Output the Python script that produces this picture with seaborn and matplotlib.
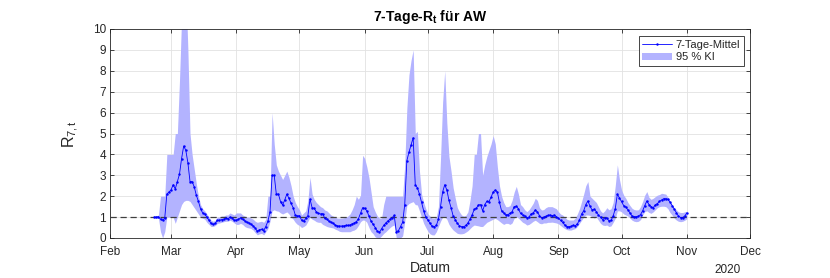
import numpy as np
import pandas as pd
import matplotlib
matplotlib.use("Agg")
import matplotlib.pyplot as plt
from matplotlib.lines import Line2D
from matplotlib.patches import Patch
import seaborn as sns

# ---------------- data ----------------
start_date = "2020-02-22"

r7_mean = [
    1.0, 1.0, 1.02, 0.9, 0.85, 0.95, 2.1, 2.2, 2.3, 2.55, 2.35, 2.7, 3.05, 3.8, 4.4, 4.2, 3.6, 2.7, 2.7, 2.45,
    2.05, 1.75, 1.4, 1.2, 1.15, 1.0, 0.85, 0.7, 0.65, 0.7, 0.85, 0.85, 0.88, 0.9, 0.95, 0.92, 1.0, 0.95, 0.85,
    0.86, 0.9, 0.97, 0.9, 0.82, 0.75, 0.72, 0.65, 0.58, 0.47, 0.32, 0.4, 0.42, 0.35, 0.55, 0.8, 1.25, 3.0, 3.0, 2.1,
    2.1, 1.74, 1.58, 1.82, 2.1, 1.9, 1.66, 1.45, 1.1, 1.05, 1.07, 0.85, 0.8, 0.94, 1.07, 1.86, 1.45, 1.42, 1.25, 1.18,
    1.15, 1.17, 0.94,
    0.9, 0.8, 0.75, 0.7, 0.62, 0.58, 0.57, 0.57, 0.58, 0.6, 0.6, 0.62, 0.68, 0.72, 0.78, 0.92, 1.18, 1.45, 1.42, 1.3,
    1.05, 0.8, 0.65, 0.5, 0.32, 0.27, 0.45, 0.6, 0.72, 0.82, 0.9, 0.97, 1.08, 0.3, 0.35, 0.55, 0.75, 1.6, 3.7, 4.1,
    4.45, 4.8, 2.55, 2.4,
    2.1, 1.7, 1.3, 1.0, 0.86, 0.7, 0.56, 0.54, 0.6, 0.9, 1.5, 2.2, 2.55, 2.3, 1.8, 1.45, 1.05, 0.88, 0.7, 0.58,
    0.54, 0.54, 0.6, 0.72, 0.9, 1.1, 1.37, 1.42, 1.58, 1.6, 1.3, 1.6, 1.75, 1.74, 1.95, 2.2, 2.3, 2.2, 1.7, 1.3, 1.2,
    1.1, 1.12, 1.18, 1.26, 1.5, 1.52, 1.4, 1.18, 1.1, 1.05, 0.97, 1.0, 1.15, 1.2, 1.34, 1.25, 1.07, 0.97, 1.0, 1.03,
    1.08, 1.1, 1.07, 1.1, 1.02, 0.95, 0.85, 0.75, 0.62, 0.55, 0.54, 0.56, 0.6, 0.58, 0.68, 0.85, 1.15, 1.3, 1.6, 1.77,
    1.52, 1.34, 1.38,
    1.26, 1.1, 1.0, 0.88, 0.97, 0.95, 0.82, 0.85, 1.05, 1.4, 2.1, 1.92, 1.75, 1.55, 1.48, 1.35, 1.2, 1.05, 1.02, 1.02,
    1.05, 1.12, 1.3, 1.55, 1.77, 1.6, 1.5, 1.45, 1.58, 1.65, 1.75, 1.82, 1.88, 1.88, 1.85, 1.72, 1.55, 1.38, 1.2, 1.05,
    0.98, 0.98, 1.05, 1.2,
]

ci_upper = [
    1.05, 1.05, 1.1, 2.0, 2.0, 2.0, 4.0, 4.0, 4.0, 4.0, 5.0, 5.0, 7.5, 10.5, 13.0, 12.0, 9.0, 5.0, 4.0, 3.3,
    2.6, 2.0, 1.6, 1.4, 1.3, 1.15, 1.0, 0.85, 0.8, 0.85, 1.0, 1.0, 1.05, 1.05, 1.1, 1.1, 1.2, 1.15, 1.1,
    1.2, 1.2, 1.2, 1.1, 1.05, 1.0, 1.0, 0.95, 0.9, 0.8, 0.75, 0.78, 0.8, 0.75, 0.9, 2.0, 2.0, 6.0, 4.5, 3.5,
    3.2, 3.0, 2.8, 3.0, 3.2, 2.9, 2.5, 2.0, 1.7, 1.5, 1.35, 1.1, 1.2, 1.3, 1.8, 2.9, 2.1, 1.85, 1.7, 1.6,
    1.5, 1.45, 1.34,
    1.3, 1.2, 1.1, 1.05, 1.0, 0.95, 0.95, 0.95, 0.97, 1.0, 1.05, 1.15, 1.35, 1.6, 2.0, 1.85, 2.05, 3.96, 3.8, 3.4,
    2.9, 2.2, 1.5, 1.25, 1.05, 0.95, 0.95, 1.6, 2.0, 2.0, 2.0, 2.0, 2.0, 2.0, 2.0, 2.0, 2.0, 3.5, 6.2, 7.8,
    8.5, 9.0, 5.0, 5.1,
    3.2, 2.1, 1.7, 1.4, 1.15, 1.05, 0.95, 0.95, 1.0, 1.5, 3.8, 6.5, 8.0, 5.5, 3.9, 3.2, 2.4, 1.9, 1.45, 1.25,
    1.1, 1.05, 1.08, 1.25, 1.8, 2.5, 4.0, 4.0, 5.0, 5.0, 3.0, 3.5, 3.9, 4.2, 4.5, 4.9, 4.5, 3.4, 2.5, 2.0, 1.7,
    1.5, 1.5, 1.55, 1.8, 2.2, 2.47, 2.1, 1.6, 1.5, 1.35, 1.26, 1.35, 1.5, 1.66, 1.9, 1.8, 1.45, 1.34, 1.36, 1.45,
    1.5, 1.5, 1.5, 1.45, 1.4, 1.26, 1.15, 1.1, 1.0, 0.9, 0.86, 0.86, 0.86, 0.95, 1.15, 1.4, 1.74, 2.1, 2.5, 2.7,
    2.0, 1.9, 1.8,
    1.7, 1.5, 1.3, 1.2, 1.3, 1.45, 1.35, 1.4, 1.7, 2.5, 3.5, 2.8, 2.3, 2.05, 1.9, 1.7, 1.55, 1.42, 1.36, 1.34,
    1.35, 1.5, 1.75, 2.05, 2.22, 1.95, 1.85, 1.9, 1.98, 2.05, 2.08, 2.14, 2.12, 2.1, 1.95, 1.75, 1.6, 1.45, 1.35, 1.25,
    1.22, 1.22, 1.25, 1.28,
]

ci_lower = [
    0.95, 0.95, 0.95, 0.3, 0.0, 0.3, 1.0, 1.0, 1.0, 1.0, 0.7, 1.0, 1.3, 1.6, 1.75, 1.8, 1.8, 1.75, 1.6, 1.45,
    1.3, 1.15, 1.0, 0.95, 0.9, 0.75, 0.65, 0.55, 0.55, 0.6, 0.7, 0.72, 0.75, 0.78, 0.8, 0.8, 0.85, 0.8, 0.72,
    0.65, 0.65, 0.7, 0.65, 0.55, 0.5, 0.48, 0.45, 0.38, 0.25, 0.15, 0.2, 0.22, 0.15, 0.3, 0.45, 0.8, 1.3, 1.35, 1.3,
    1.28, 1.2, 1.15, 1.2, 1.25, 1.15, 1.0, 0.9, 0.75, 0.65, 0.6, 0.5, 0.55, 0.62, 0.8, 1.0, 0.9, 0.85, 0.78, 0.75,
    0.75, 0.65, 0.6,
    0.55, 0.52, 0.5, 0.48, 0.42, 0.38, 0.32, 0.3, 0.3, 0.3, 0.3, 0.3, 0.35, 0.38, 0.45, 0.6, 0.78, 0.86, 0.85, 0.75,
    0.5, 0.3, 0.2, 0.05, 0.0, 0.0, 0.1, 0.22, 0.3, 0.4, 0.5, 0.58, 0.62, 0.0, 0.0, 0.0, 0.1, 0.78, 1.55, 1.65,
    1.7, 1.74, 1.6, 1.58,
    1.3, 1.0, 0.7, 0.5, 0.32, 0.2, 0.15, 0.15, 0.3, 0.55, 0.8, 1.0, 1.0, 0.9, 0.65, 0.5, 0.38, 0.3, 0.22, 0.2,
    0.2, 0.22, 0.28, 0.35, 0.45, 0.55, 0.62, 0.6, 0.58, 0.55, 0.55, 0.65, 0.75, 0.8, 0.85, 0.9, 0.94, 0.88, 0.8, 0.72,
    0.65,
    0.7, 0.7, 0.65, 0.72, 0.95, 1.02, 0.95, 0.85, 0.75, 0.7, 0.62, 0.65, 0.72, 0.8, 0.85, 0.78, 0.7, 0.68, 0.72, 0.72,
    0.75, 0.75, 0.76, 0.74, 0.72, 0.68, 0.6, 0.52, 0.45, 0.4, 0.38, 0.38, 0.42, 0.45, 0.55, 0.7, 0.85, 1.0, 1.1, 1.1,
    1.08, 1.02, 0.95,
    1.0, 0.85, 0.7, 0.62, 0.6, 0.62, 0.55, 0.58, 0.75, 0.94, 1.3, 1.3, 1.25, 1.15, 1.1, 1.05, 0.95, 0.85, 0.8, 0.78,
    0.8, 0.88, 1.1, 1.26, 1.3, 1.22, 1.18, 1.25, 1.35, 1.45, 1.5, 1.52, 1.52, 1.5, 1.4, 1.22, 1.1, 0.95, 0.86, 0.8,
    0.78, 0.8, 0.85, 0.92,
]

month_ticks = ["2020-02-01", "2020-03-01", "2020-04-01", "2020-05-01", "2020-06-01", "2020-07-01",
               "2020-08-01", "2020-09-01", "2020-10-01", "2020-11-01", "2020-12-01"]
month_labels = ["Feb", "Mar", "Apr", "May", "Jun", "Jul", "Aug", "Sep", "Oct", "Nov", "Dec"]
y_ticks = list(range(0, 11))

# ---------------- style ----------------
sns.set_theme(style="white")
plt.rcParams["font.family"] = ["Liberation Sans", "DejaVu Sans"]
plt.rcParams["mathtext.fontset"] = "custom"
plt.rcParams["mathtext.rm"] = "Liberation Sans"
plt.rcParams["mathtext.it"] = "Liberation Sans"
plt.rcParams["mathtext.bf"] = "Liberation Sans:bold"

axcol = "#262626"
fill_col = (0.70, 0.70, 1.0)

dates = pd.date_range(start_date, periods=len(r7_mean), freq="D")
df = pd.DataFrame({"Datum": dates, "R": r7_mean, "lo": ci_lower, "hi": ci_upper})

fig = plt.figure(figsize=(8.3, 2.78), dpi=100)
ax = fig.add_axes([110 / 830, 1 - 238 / 278, 640 / 830, 209 / 278])

ax.fill_between(df["Datum"], df["lo"], df["hi"], color=fill_col, linewidth=0, zorder=2)
ax.axhline(1, color="#404040", linestyle=(0, (5, 3)), linewidth=0.9, zorder=3)
sns.lineplot(data=df, x="Datum", y="R", ax=ax, color="blue", linewidth=0.6,
             marker=".", markersize=3.5, markeredgecolor="blue", markeredgewidth=0,
             zorder=4, legend=False)

ax.set_xlim(pd.Timestamp(month_ticks[0]), pd.Timestamp(month_ticks[-1]))
ax.set_ylim(0, 10)
ax.set_xticks([pd.Timestamp(t) for t in month_ticks])
ax.set_xticklabels(month_labels)
ax.set_yticks(y_ticks)

ax.grid(True, color="#e2e2e2", linewidth=0.6, zorder=0)
ax.set_axisbelow(True)
for s in ax.spines.values():
    s.set_color(axcol)
    s.set_linewidth(0.6)
    s.set_visible(True)
ax.tick_params(direction="in", length=3, width=0.6, colors=axcol, labelsize=8.5,
               top=True, right=True, bottom=True, left=True, pad=3)
ax.tick_params(axis="x", pad=6)

ax.set_xlabel("Datum", fontsize=10, color=axcol, labelpad=2)
ax.set_ylabel(r"R$_{7,t}$", fontsize=11.5, color=axcol, labelpad=8)
ax.set_title(r"7-Tage-R$_{\mathbf{t}}$ für AW", fontsize=10, fontweight="bold", color="black", pad=6)

fig.text(728 / 830, 1 - 270 / 278, "2020", fontsize=8.5, color=axcol, ha="center", va="center")

handles = [
    Line2D([0], [0], color="blue", linewidth=0.6, marker=".", markersize=3.5, markeredgewidth=0),
    Patch(facecolor=fill_col, edgecolor="none"),
]
leg = ax.legend(handles, ["7-Tage-Mittel", "95 % KI"], loc="upper right", fontsize=8,
                frameon=True, fancybox=False, framealpha=1, edgecolor=axcol,
                borderpad=0.3, handlelength=2.7, handletextpad=0.3, labelspacing=0.25,
                bbox_to_anchor=(0.99, 0.965), borderaxespad=0)
leg.get_frame().set_linewidth(0.6)

fig.savefig("out.png", dpi=100)
